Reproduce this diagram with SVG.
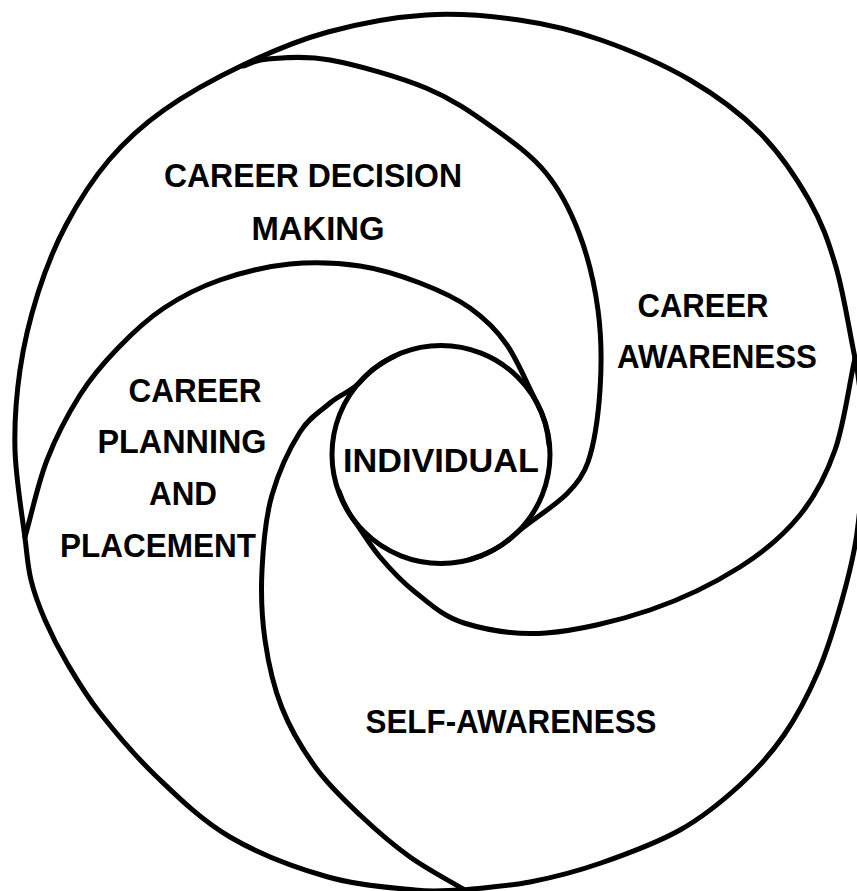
<svg xmlns="http://www.w3.org/2000/svg" width="857" height="891" viewBox="0 0 857 891">
<style>
.ln{fill:none;stroke:#000;stroke-width:5;stroke-linecap:round;stroke-linejoin:round}
.lb{font-family:"Liberation Sans",Arial,sans-serif;font-weight:bold;font-size:33px;fill:#000;text-anchor:middle}
</style>
<rect width="857" height="891" fill="#fff"/>
<g id="connectors">
<path id="outer-main" class="ln" d="M855,358 C848.7,327.7 843.7,293.3 836,267 C828.3,240.7 821.7,222.3 809,200 C796.3,177.7 779.8,153 760,133 C740.2,113 716.5,95.5 690,80 C663.5,64.5 629.5,50 601,40 C572.5,30 548.2,24.2 519,20 C489.8,15.8 457.8,13 426,15 C394.2,17 358.5,23.7 328,32 C297.5,40.3 270.3,52 243,65 C215.7,78 186.3,94.2 164,110 C141.7,125.8 125.3,140.8 109,160 C92.7,179.2 77.8,202.8 66,225 C54.2,247.2 45.7,268.8 38,293 C30.3,317.2 23.8,343.8 20,370 C16.2,396.2 14.2,422 15,450 C15.8,478 22.3,516.3 25,538 C27.7,559.7 27.7,566.3 31,580 C34.3,593.7 39,606.2 45,620 C51,633.8 57.8,647.5 67,663 C76.2,678.5 85,694 100,713 C115,732 135.3,756.3 157,777 C178.7,797.7 201.5,820.3 230,837 C258.5,853.7 297.2,868.2 328,877 C358.8,885.8 392.5,887.8 415,890 C437.5,892.2 447,890 463,890"/>
<path id="outer-self" class="ln" d="M855,358 C860.9,386.4 862.7,415.8 863,445 C863.3,474.2 860.5,507.2 857,533 C853.5,558.8 848.5,576.8 842,600 C835.5,623.2 827.7,649.5 818,672 C808.3,694.5 797,716.2 784,735 C771,753.8 757.3,769.2 740,785 C722.7,800.8 703.2,817 680,830 C656.8,843 626,854.3 601,863 C576,871.7 553,877.5 530,882 C507,886.5 485.3,887.3 463,890"/>
<path id="div-decision-awareness" class="ln" d="M243,66 C251.3,63.7 253.5,60 268,59 C282.5,58 303.7,55.2 330,60 C356.3,64.8 399,76.8 426,88 C453,99.2 472,112.8 492,127 C512,141.2 531.5,155.3 546,173 C560.5,190.7 570.3,210.2 579,233 C587.7,255.8 594.5,283.8 598,310 C601.5,336.2 601.7,364.7 600,390 C598.3,415.3 594.7,442.5 588,462 C575.6,498 537.2,513.7 515.3,534.2 A109,109 0 0 1 470,559.5"/>
<path id="div-awareness-self" class="ln" d="M855,358 C848.3,388.7 844.2,423.8 835,450 C825.8,476.2 815.8,495.5 800,515 C784.2,534.5 765,551.2 740,567 C715,582.8 682.3,599 650,610 C617.7,621 577,630.8 546,633 C515,635.2 485.8,629.8 464,623 C442.2,616.2 429,603 415,592 C401,581 390.3,569.2 380,557 C369.7,544.8 362.2,531.4 353,519 A109,109 0 0 1 339,491"/>
<path id="div-self-planning" class="ln" d="M463,889 C445.3,878.3 427.2,869.3 410,857 C392.8,844.7 375.7,829.8 360,815 C344.3,800.2 329,785.8 316,768 C303,750.2 290.5,729.3 282,708 C273.5,686.7 268.3,663 265,640 C261.7,617 260.8,594.2 262,570 C263.2,545.8 265.3,518 272,495 C278.7,472 290.3,447.3 300,432 C309.7,416.7 320.3,411.5 330,403 C339.7,394.5 351,391.8 359,383 A109,109 0 0 1 395,356"/>
<path id="div-planning-decision" class="ln" d="M25,537 C32.3,511.3 37.8,483.7 47,460 C56.2,436.3 68.2,413.7 80,395 C91.8,376.3 104,362.5 118,348 C132,333.5 147,319.3 164,308 C181,296.7 199,287.3 220,280 C241,272.7 266.7,266.3 290,264 C313.3,261.7 338.3,262.8 360,266 C381.7,269.2 401.7,276 420,283 C438.3,290 455.5,297.7 470,308 C484.5,318.3 496.2,329.3 507,345 C517.8,360.7 526.6,383.3 536.5,402 A109,109 0 0 1 549,445"/>
</g>
<g id="career-decision-making">
<text class="lb" x="313" y="187" textLength="298" lengthAdjust="spacingAndGlyphs">CAREER DECISION</text>
<text class="lb" x="318" y="240" textLength="133" lengthAdjust="spacingAndGlyphs">MAKING</text>
</g>
<g id="career-awareness">
<text class="lb" x="703" y="317" textLength="131" lengthAdjust="spacingAndGlyphs">CAREER</text>
<text class="lb" x="717" y="368" textLength="200" lengthAdjust="spacingAndGlyphs">AWARENESS</text>
</g>
<g id="career-planning-and-placement">
<text class="lb" x="195" y="402" textLength="133" lengthAdjust="spacingAndGlyphs">CAREER</text>
<text class="lb" x="182" y="453" textLength="169" lengthAdjust="spacingAndGlyphs">PLANNING</text>
<text class="lb" x="183" y="505" textLength="68" lengthAdjust="spacingAndGlyphs">AND</text>
<text class="lb" x="158" y="557" textLength="196" lengthAdjust="spacingAndGlyphs">PLACEMENT</text>
</g>
<g id="self-awareness">
<text class="lb" x="511" y="733" textLength="291" lengthAdjust="spacingAndGlyphs">SELF-AWARENESS</text>
</g>
<g id="individual">
<circle class="ln" cx="441" cy="454.5" r="109"/>
<text class="lb" x="441" y="472" textLength="196" lengthAdjust="spacingAndGlyphs">INDIVIDUAL</text>
</g>
</svg>
